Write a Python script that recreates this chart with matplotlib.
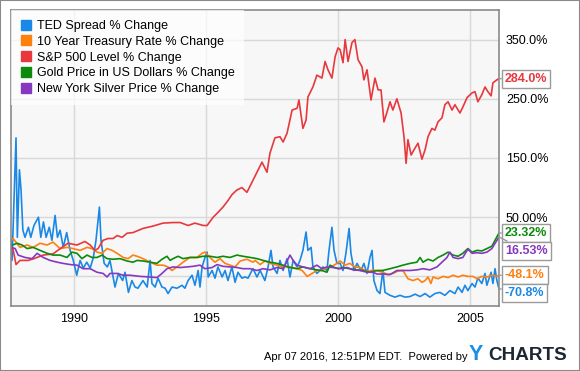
import matplotlib
matplotlib.use("Agg")
import matplotlib.pyplot as plt
from matplotlib.lines import Line2D
from matplotlib.patches import Rectangle

plt.rcParams['font.family'] = ['Liberation Sans', 'DejaVu Sans']

## data (decimal year, % change)
ted_t = [1987.61, 1987.65, 1987.80, 1987.85, 1987.93, 1987.99, 1988.06, 1988.14, 1988.27, 1988.36,
         1988.48, 1988.65, 1988.74, 1988.84, 1988.94, 1989.06, 1989.16, 1989.28, 1989.37, 1989.47,
         1989.59, 1989.72, 1989.85, 1989.97, 1990.10, 1990.23, 1990.35, 1990.48, 1990.61, 1990.73,
         1990.83, 1990.96, 1991.02, 1991.14, 1991.26, 1991.36, 1991.55, 1991.68, 1991.84, 1991.93,
         1992.06, 1992.19, 1992.31, 1992.42, 1992.61, 1992.77, 1992.88, 1992.95, 1993.07, 1993.18,
         1993.33, 1993.45, 1993.56, 1993.71, 1993.90, 1994.09, 1994.20, 1994.32, 1994.47, 1994.58,
         1994.70, 1994.77, 1994.85, 1994.96, 1995.04, 1995.08, 1995.23, 1995.34, 1995.45, 1995.61,
         1995.72, 1995.83, 1995.98, 1996.10, 1996.21, 1996.36, 1996.48, 1996.59, 1996.74, 1996.78,
         1996.93, 1997.05, 1997.23, 1997.35, 1997.46, 1997.54, 1997.69, 1997.80, 1997.92, 1998.07,
         1998.18, 1998.30, 1998.45, 1998.56, 1998.67, 1998.79, 1998.86, 1998.98, 1999.05, 1999.20,
         1999.32, 1999.43, 1999.58, 1999.66, 1999.77, 1999.85, 1999.96, 2000.08, 2000.19, 2000.30,
         2000.42, 2000.49, 2000.61, 2000.72, 2000.87, 2000.98, 2001.10, 2001.21, 2001.29, 2001.36,
         2001.48, 2001.59, 2001.70, 2001.78, 2001.97, 2002.16, 2002.35, 2002.54, 2002.73, 2002.92,
         2003.11, 2003.30, 2003.48, 2003.67, 2003.86, 2004.05, 2004.24, 2004.43, 2004.55, 2004.70,
         2004.81, 2004.92, 2005.08, 2005.19, 2005.30, 2005.45, 2005.57, 2005.64, 2005.80, 2005.87,
         2005.95, 2006.02, 2006.10]
ted_v = [11, -23, 184, 16, 130, 96, 28, 16, 33, 16,
         36, 50, 16, 42, 16, 33, 11, 53, 16, 28,
         -1, 24, -6, -23, -48, -23, -36, -26, -36, -18,
         11, 67, 11, -28, -34, -23, -68, -45, -57, -43,
         -77, -57, -68, -70, -57, -68, -23, -62, -68, -53,
         -68, -70, -79, -68, -70, -65, -70, -57, -48, -65,
         -40, -68, -34, -18, -9, -51, -40, -53, -34, -51,
         -40, -57, -34, -60, -43, -53, -51, -53, -40, -37,
         -51, -40, -57, -34, -6, -34, -45, -23, -40, -20,
         -51, -23, -34, -23, -6, 25, -6, -1, -34, -45,
         -40, -34, -40, -6, 33, -6, -28, -28, -40, -11,
         31, -11, -40, -28, -40, -28, -45, -18, -6, -57,
         -74, -79, -40, -77, -82, -85, -82, -85, -84, -80,
         -84, -79, -85, -79, -77, -82, -74, -79, -68, -77,
         -65, -74, -62, -68, -53, -62, -45, -65, -43, -62,
         -37, -57, -70.8]

tsy_t = [1987.61, 1987.69, 1987.95, 1988.22, 1988.45, 1988.71, 1988.98, 1989.20, 1989.47, 1989.73,
         1989.96, 1990.23, 1990.49, 1990.68, 1990.87, 1991.06, 1991.25, 1991.44, 1991.63, 1991.86,
         1992.05, 1992.23, 1992.39, 1992.61, 1992.88, 1993.14, 1993.37, 1993.56, 1993.71, 1993.90,
         1994.13, 1994.39, 1994.66, 1994.85, 1994.96, 1995.15, 1995.34, 1995.53, 1995.72, 1995.91,
         1996.10, 1996.29, 1996.55, 1996.78, 1996.86, 1997.05, 1997.23, 1997.42, 1997.69, 1997.92,
         1998.18, 1998.45, 1998.64, 1998.83, 1999.02, 1999.20, 1999.39, 1999.58, 1999.77, 1999.96,
         2000.08, 2000.27, 2000.45, 2000.64, 2000.83, 2001.02, 2001.21, 2001.33, 2001.52, 2001.70,
         2001.89, 2002.08, 2002.27, 2002.46, 2002.65, 2002.84, 2003.03, 2003.18, 2003.30, 2003.41,
         2003.52, 2003.60, 2003.79, 2003.98, 2004.17, 2004.36, 2004.55, 2004.73, 2004.92, 2005.11,
         2005.27, 2005.45, 2005.64, 2005.83, 2006.02, 2006.10]
tsy_v = [11, 14, -1, 3, -1, 6, 3, 8, -3, -1,
         -3, -6, -1, -3, -9, -11, -3, -6, -11, -18,
         -20, -14, -16, -20, -26, -31, -31, -34, -40, -34,
         -26, -18, -18, -11, -9, -18, -26, -20, -28, -31,
         -34, -24, -21, -26, -23, -30, -24, -28, -31, -34,
         -34, -37, -40, -50, -45, -40, -40, -35, -33, -28,
         -24, -31, -28, -34, -35, -40, -41, -39, -41, -43,
         -47, -45, -41, -40, -54, -57, -54, -60, -57, -51,
         -62, -51, -54, -50, -52, -48, -51, -48, -50, -50,
         -54, -50, -51, -48, -50, -48.1]

spx_t = [1987.61, 1987.69, 1987.80, 1987.95, 1988.26, 1988.48, 1988.83, 1989.20, 1989.54, 1989.77,
         1990.11, 1990.41, 1990.61, 1990.79, 1990.91, 1991.10, 1991.29, 1991.48, 1991.63, 1991.82,
         1992.01, 1992.23, 1992.61, 1992.99, 1993.37, 1993.75, 1994.02, 1994.32, 1994.58, 1994.89,
         1995.04, 1995.27, 1995.45, 1995.64, 1995.83, 1995.98, 1996.17, 1996.36, 1996.55, 1996.74,
         1996.93, 1997.12, 1997.31, 1997.42, 1997.61, 1997.80, 1997.92, 1998.07, 1998.26, 1998.45,
         1998.52, 1998.67, 1998.79, 1998.86, 1999.05, 1999.20, 1999.39, 1999.51, 1999.62, 1999.77,
         1999.89, 2000.00, 2000.08, 2000.19, 2000.27, 2000.38, 2000.53, 2000.64, 2000.76, 2000.91,
         2000.98, 2001.10, 2001.25, 2001.40, 2001.52, 2001.63, 2001.74, 2001.86, 2001.97, 2002.08,
         2002.23, 2002.39, 2002.50, 2002.58, 2002.65, 2002.77, 2002.92, 2003.03, 2003.18, 2003.30,
         2003.41, 2003.56, 2003.67, 2003.79, 2003.94, 2004.05, 2004.17, 2004.32, 2004.43, 2004.62,
         2004.73, 2004.89, 2005.08, 2005.19, 2005.30, 2005.45, 2005.57, 2005.68, 2005.80, 2005.87,
         2006.02, 2006.10]
spx_v = [0, -5, -30, -23, -23, -20, -14, -12, -1, 6,
         3, 9, 3, -6, -3, 11, 14, 14, 19, 16,
         23, 24, 31, 35, 40, 41, 41, 36, 40, 36,
         36, 50, 58, 67, 78, 88, 96, 100, 92, 109,
         126, 143, 126, 158, 184, 186, 177, 192, 231, 234,
         248, 200, 214, 253, 270, 290, 285, 313, 299, 285,
         321, 336, 333, 311, 350, 313, 345, 350, 316, 304,
         282, 299, 248, 285, 265, 265, 211, 228, 245, 231,
         250, 226, 186, 141, 181, 155, 167, 175, 148, 164,
         186, 200, 197, 211, 218, 240, 245, 231, 240, 226,
         236, 252, 260, 262, 245, 257, 270, 262, 255, 277,
         282, 284.0]

gld_t = [1987.61, 1987.84, 1988.03, 1988.22, 1988.45, 1988.71, 1988.98, 1989.20, 1989.47, 1989.73,
         1989.92, 1990.11, 1990.30, 1990.49, 1990.68, 1990.87, 1991.06, 1991.25, 1991.48, 1991.74,
         1992.01, 1992.23, 1992.39, 1992.61, 1992.88, 1993.14, 1993.33, 1993.52, 1993.64, 1993.75,
         1993.94, 1994.13, 1994.39, 1994.66, 1994.89, 1995.15, 1995.42, 1995.64, 1995.91, 1996.17,
         1996.40, 1996.67, 1996.93, 1997.16, 1997.42, 1997.69, 1997.92, 1998.18, 1998.45, 1998.67,
         1998.94, 1999.20, 1999.39, 1999.58, 1999.70, 1999.81, 2000.00, 2000.19, 2000.45, 2000.72,
         2000.95, 2001.21, 2001.48, 2001.70, 2001.97, 2002.23, 2002.46, 2002.73, 2002.99, 2003.11,
         2003.22, 2003.41, 2003.60, 2003.79, 2003.98, 2004.17, 2004.36, 2004.55, 2004.73, 2004.92,
         2005.08, 2005.27, 2005.45, 2005.64, 2005.83, 2005.95, 2006.10]
gld_v = [2, 6, 3, -3, -1, -6, -11, -14, -14, -18,
         -9, -11, -20, -14, -18, -18, -14, -20, -21, -20,
         -24, -26, -23, -24, -26, -28, -21, -16, -23, -20,
         -16, -20, -18, -18, -16, -16, -18, -16, -18, -14,
         -16, -18, -20, -23, -26, -28, -31, -35, -37, -34,
         -37, -39, -40, -43, -31, -34, -37, -35, -37, -39,
         -40, -43, -40, -40, -37, -34, -31, -28, -26, -18,
         -26, -21, -24, -18, -14, -9, -14, -16, -11, -3,
         -9, -6, -7, -3, 1, 11, 23.32]

slv_t = [1987.61, 1987.77, 1987.88, 1988.14, 1988.41, 1988.60, 1988.83, 1989.09, 1989.36, 1989.58,
         1989.85, 1990.11, 1990.34, 1990.61, 1990.87, 1991.10, 1991.25, 1991.36, 1991.63, 1991.86,
         1992.12, 1992.50, 1992.88, 1993.14, 1993.33, 1993.52, 1993.75, 1994.02, 1994.28, 1994.51,
         1994.77, 1994.96, 1995.23, 1995.42, 1995.64, 1995.91, 1996.17, 1996.40, 1996.67, 1996.93,
         1997.16, 1997.42, 1997.69, 1997.92, 1998.07, 1998.18, 1998.30, 1998.45, 1998.67, 1998.94,
         1999.20, 1999.39, 1999.58, 1999.81, 2000.08, 2000.34, 2000.57, 2000.83, 2001.10, 2001.33,
         2001.48, 2001.70, 2001.97, 2002.23, 2002.46, 2002.73, 2002.99, 2003.22, 2003.48, 2003.75,
         2003.94, 2004.13, 2004.24, 2004.36, 2004.55, 2004.73, 2004.92, 2005.08, 2005.27, 2005.45,
         2005.64, 2005.83, 2005.98, 2006.10]
slv_v = [-1, -3, -14, -18, -20, -11, -18, -23, -26, -28,
         -30, -31, -37, -37, -43, -45, -51, -45, -45, -48,
         -48, -50, -51, -52, -45, -37, -34, -35, -34, -33,
         -31, -37, -35, -30, -33, -34, -35, -37, -37, -40,
         -37, -39, -35, -37, -24, -14, -23, -31, -34, -37,
         -31, -37, -34, -35, -37, -35, -39, -40, -43, -43,
         -46, -46, -47, -40, -40, -40, -39, -37, -39, -34,
         -26, -18, -9, -18, -20, -18, -4, -11, -10, -11,
         -9, -3, 8, 16.53]

names = ['TED Spread % Change', '10 Year Treasury Rate % Change', 'S&P 500 Level % Change',
         'Gold Price in US Dollars % Change', 'New York Silver Price % Change']
colors = ['#1a88e6', '#ff7f0f', '#e8383d', '#0b8a0b', '#8639c0']
end_labels = ['-70.8%', '-48.1%', '284.0%', '23.32%', '16.53%']

series = [(ted_t, ted_v), (tsy_t, tsy_v), (spx_t, spx_v), (gld_t, gld_v), (slv_t, slv_v)]

fig = plt.figure(figsize=(5.8, 3.71), dpi=100)
fig.patches.append(Rectangle((0, 0), 1, 1, transform=fig.transFigure, fill=False,
                             edgecolor='#8a8a8a', lw=1.5))
ax = fig.add_axes([11 / 580, 1 - 306 / 371, 488 / 580, 296 / 371])
ax.set_facecolor('#f7f7f7')

for (t, v), c in zip(series, colors):
    ax.plot(t, v, color=c, lw=1.2, solid_joinstyle='round')

ax.set_xlim(1987.61, 2006.10)
ax.set_ylim(-100, 400)
ax.set_xticks([1990, 1995, 2000, 2005])
ax.set_xticklabels(['1990', '1995', '2000', '2005'], fontsize=9)
ax.set_yticks([-50, 50, 150, 250, 350])
ax.set_yticklabels(['', '50.00%', '150.0%', '250.0%', '350.0%'], fontsize=9)
ax.yaxis.tick_right()
ax.tick_params(length=0, pad=5)
ax.grid(True, color='#d8d8d8', lw=1)
ax.set_axisbelow(True)
for s in ax.spines.values():
    s.set_color('#8a8a8a')
    s.set_linewidth(1.2)

## legend
handles = [Line2D([], [], ls='none', marker='s', markersize=6.5, color=c) for c in colors]
leg = ax.legend(handles, names, loc='upper left', fontsize=9, frameon=True,
                borderaxespad=0, handlelength=0.8, handletextpad=0.45,
                labelspacing=0.3, borderpad=0.8, fancybox=False)
leg.get_frame().set_facecolor('white')
leg.get_frame().set_alpha(0.7)
leg.get_frame().set_edgecolor('none')

## end value boxes, pushed down when they overlap
order = sorted(range(5), key=lambda i: -series[i][1][-1])
gap = 30
prev = None
for i in order:
    t, v = series[i]
    pos = v[-1] if prev is None else min(v[-1], prev - gap)
    prev = pos
    ax.annotate(end_labels[i], xy=(t[-1], v[-1]), xytext=(t[-1] + 0.22, pos),
                textcoords='data', ha='left', va='center', fontsize=9,
                fontweight='bold', color=colors[i], annotation_clip=False,
                bbox=dict(boxstyle='square,pad=0.25', fc='white', ec='#9a9a9a', lw=1),
                arrowprops=dict(arrowstyle='-', color='#9a9a9a', lw=1,
                                shrinkA=0, shrinkB=0))

## footer
fig.text(468 / 580, 1 - 357 / 371, 'Apr 07 2016, 12:51PM EDT.  Powered by',
         fontsize=8, ha='right', va='center')
fig.text(469 / 580, 1 - 355 / 371, 'Y', fontsize=15.5, fontweight='bold',
         color='#1a8fe3', ha='left', va='center')
fig.text(488 / 580, 1 - 355 / 371, 'CHARTS', fontsize=13.6, fontweight='bold',
         color='#1c2733', ha='left', va='center')

fig.savefig('out.png', dpi=100)
